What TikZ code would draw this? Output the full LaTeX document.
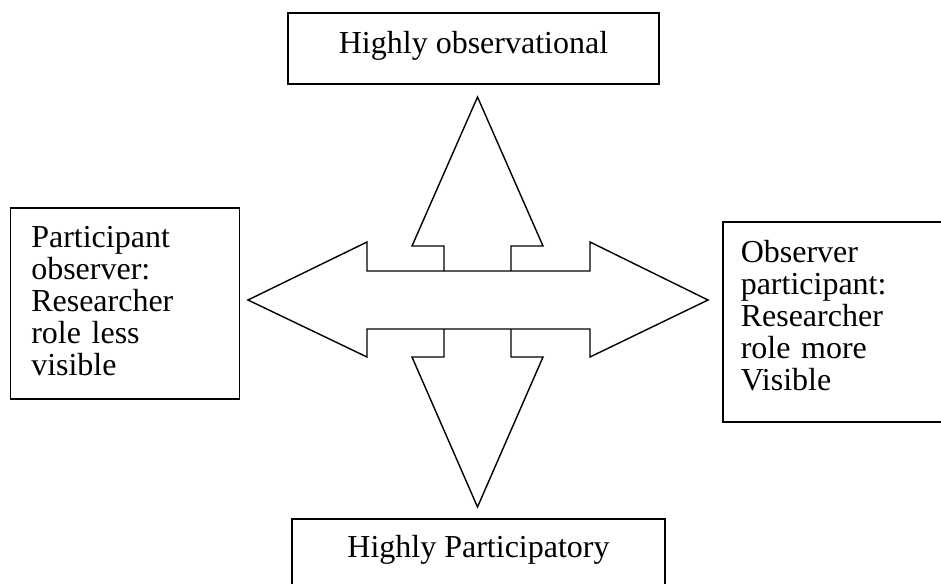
\documentclass[tikz,border=0pt]{standalone}
\usepackage{fontspec}
\setmainfont{Liberation Serif}
\usetikzlibrary{positioning}

\begin{document}
\begin{tikzpicture}[x=1pt, y=-1pt,
box/.style={draw, line width=1.5pt, font=\fontsize{32}{32}\selectfont, inner sep=0pt},
endbox/.style={box, minimum height=71pt, text height=22pt, text depth=13pt},
sidebox/.style={box, align=left, text height=22pt},
arrowshape/.style={draw, line width=1.4pt, line join=miter}]
\useasboundingbox (0,0) rectangle (941,583);
\clip (0,0) rectangle (941,583);
\coordinate (c) at (477.5,300);
\node[endbox, minimum width=371pt, above=215pt of c, xshift=-4pt] (0) {Highly observational};
\node[sidebox, minimum width=229pt, minimum height=191pt, text width=187pt, text depth=135pt, left=237.5pt of c, yshift=-3.5pt] (1) {Participant\\observer:\\Researcher\\role less\\visible};
\node[sidebox, minimum width=280pt, minimum height=200pt, text width=244pt, text depth=142pt, right=244.5pt of c, yshift=-22pt] (2) {Observer\\participant:\\Researcher\\role more\\Visible};
\node[endbox, minimum width=373pt, minimum height=100pt, text depth=44pt, below=218pt of c, xshift=1pt] (3) {Highly Participatory};
\path[arrowshape] (248,300) -- (367,242) -- (367,271) -- (590,271) -- (590,242) -- (708,300) -- (590,357) -- (590,329) -- (367,329) -- (367,357) -- cycle;
\path[arrowshape] (444,271) -- (444,246) -- (412,246) -- (477.5,97) -- (543,246) -- (511,246) -- (511,271);
\path[arrowshape] (444,329) -- (444,357) -- (412,357) -- (477.5,507) -- (543,357) -- (511,357) -- (511,329);
\end{tikzpicture}
\end{document}
